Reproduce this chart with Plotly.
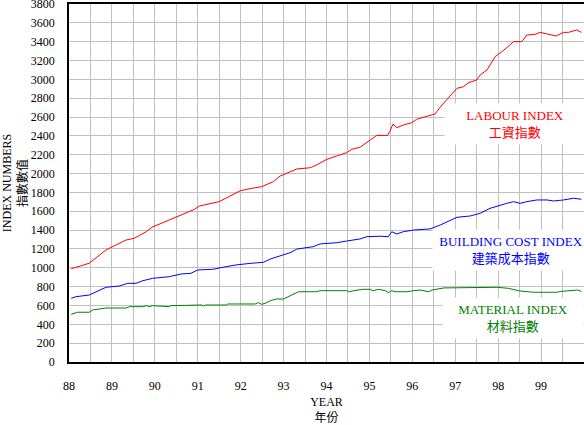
import plotly.graph_objects as go

# values (year as decimal, index value)
labour_x = [88.05, 88.47, 88.86, 89.33, 89.52, 89.8, 89.93, 90.26, 90.61, 90.92,
            91.04, 91.5, 91.75, 91.99, 92.22, 92.49, 92.76, 92.92, 93.31, 93.62,
            93.77, 94.01, 94.24, 94.47, 94.59, 94.78, 95.02, 95.17, 95.42, 95.48,
            95.55, 95.64, 95.79, 95.99, 96.1, 96.34, 96.53, 96.69, 97.04, 97.19,
            97.31, 97.5, 97.58, 97.74, 97.93, 98.09, 98.24, 98.36, 98.55, 98.67,
            98.86, 98.98, 99.14, 99.35, 99.52, 99.64, 99.83, 99.94]
labour = [990, 1048, 1189, 1295, 1313, 1383, 1430, 1489, 1560, 1620,
          1656, 1702, 1765, 1818, 1840, 1861, 1914, 1974, 2049, 2062,
          2091, 2152, 2187, 2222, 2258, 2279, 2357, 2405, 2405, 2452,
          2526, 2487, 2516, 2540, 2576, 2604, 2633, 2728, 2905, 2922,
          2965, 2993, 3047, 3100, 3241, 3294, 3354, 3400, 3400, 3471,
          3478, 3499, 3482, 3460, 3499, 3499, 3524, 3499]

building_x = [88.05, 88.16, 88.47, 88.63, 88.86, 89.17, 89.37, 89.56, 89.72, 89.95,
              90.34, 90.61, 90.84, 91.0, 91.35, 91.58, 91.89, 92.22, 92.53, 92.69,
              92.92, 93.15, 93.31, 93.69, 93.85, 94.24, 94.47, 94.78, 94.94, 95.25,
              95.44, 95.52, 95.64, 95.79, 96.03, 96.41, 96.65, 96.88, 97.04, 97.35,
              97.58, 97.81, 97.97, 98.2, 98.36, 98.51, 98.67, 98.9, 99.14, 99.29,
              99.52, 99.76, 99.94]
building = [676, 693, 711, 746, 793, 807, 835, 835, 863, 888,
            906, 934, 941, 977, 984, 1005, 1030, 1047, 1058, 1093,
            1128, 1160, 1199, 1224, 1253, 1266, 1284, 1306, 1330, 1335,
            1330, 1383, 1359, 1383, 1401, 1412, 1454, 1507, 1536, 1550,
            1578, 1631, 1656, 1684, 1702, 1684, 1702, 1720, 1720, 1709,
            1720, 1738, 1727]

material_x = [88.05, 88.2, 88.47, 88.55, 88.86, 89.33, 89.41, 89.72, 89.8, 89.87,
              89.95, 90.26, 90.34, 90.37, 90.8, 90.88, 91.1, 91.13, 91.18, 91.66,
              91.7, 92.34, 92.41, 92.49, 92.57, 92.69, 92.84, 93.0, 93.15, 93.35,
              93.77, 93.85, 94.47, 94.54, 94.63, 94.86, 95.0, 95.09, 95.21, 95.37,
              95.44, 95.52, 95.6, 95.87, 96.03, 96.18, 96.38, 96.46, 96.73, 97.74,
              97.97, 98.24, 98.51, 98.82, 99.36, 99.48, 99.76, 99.85, 99.94]
material = [506, 528, 528, 552, 573, 573, 587, 587, 598, 587,
            598, 594, 587, 598, 598, 605, 605, 594, 605, 605,
            616, 616, 630, 612, 623, 651, 669, 669, 700, 746,
            746, 757, 757, 746, 757, 772, 772, 757, 772, 757,
            736, 757, 746, 746, 757, 764, 746, 764, 786, 786,
            793, 782, 754, 740, 740, 750, 757, 764, 750]

year_ticks = [88 + i * 0.5 for i in range(24)]
year_labels = [str(88 + i // 2) if i % 2 == 0 else "" for i in range(24)]

serif = "Liberation Serif, Noto Sans CJK TC, serif"

fig = go.Figure()
fig.add_trace(go.Scatter(x=labour_x, y=labour, mode="lines",
                         line=dict(color="#ff0000", width=1)))
fig.add_trace(go.Scatter(x=building_x, y=building, mode="lines",
                         line=dict(color="#0000ff", width=1)))
fig.add_trace(go.Scatter(x=material_x, y=material, mode="lines",
                         line=dict(color="#008000", width=1)))

labels = [
    ("LABOUR INDEX<br>工資指數", "#ff0000", 98.4, 2525, 132),
    ("BUILDING COST INDEX<br>建築成本指數", "#0000ff", 98.3, 1190, 148),
    ("MATERIAL INDEX<br>材料指數", "#008000", 98.35, 470, 132),
]
for text, color, ax_x, ax_y, w in labels:
    fig.add_annotation(x=ax_x, y=ax_y, text=text, showarrow=False,
                       font=dict(family=serif, size=13, color=color),
                       bgcolor="white", width=w, borderpad=4)

fig.update_layout(
    width=584, height=425,
    margin=dict(l=69, r=0, t=4, b=63),
    plot_bgcolor="white", paper_bgcolor="white",
    showlegend=False,
    font=dict(family=serif, size=12, color="black"),
    xaxis=dict(
        range=[88, 100], tickvals=year_ticks, ticktext=year_labels,
        showgrid=True, gridcolor="#c0c0c0", gridwidth=1,
        showline=True, linecolor="black", linewidth=1.5, mirror=True,
        ticks="", ticklabelstandoff=12, zeroline=False, automargin=False,
        title=dict(text="YEAR<br>年份", standoff=8,
                   font=dict(family=serif, size=12)),
    ),
    yaxis=dict(
        range=[0, 3800], dtick=200,
        showgrid=True, gridcolor="#c0c0c0", gridwidth=1,
        showline=True, linecolor="black", linewidth=1.5, mirror=True,
        ticks="", ticklabelstandoff=10, zeroline=False, automargin=False,
        ticklabeloverflow="allow",
        title=dict(text="INDEX NUMBERS<br>指數數值", standoff=2,
                   font=dict(family=serif, size=12)),
    ),
)

# the page has a default 8px body margin; drop it so the chart sits at 0,0
fig.write_html("out.html", config={"displayModeBar": False},
               post_script="document.body.style.margin='0';")
